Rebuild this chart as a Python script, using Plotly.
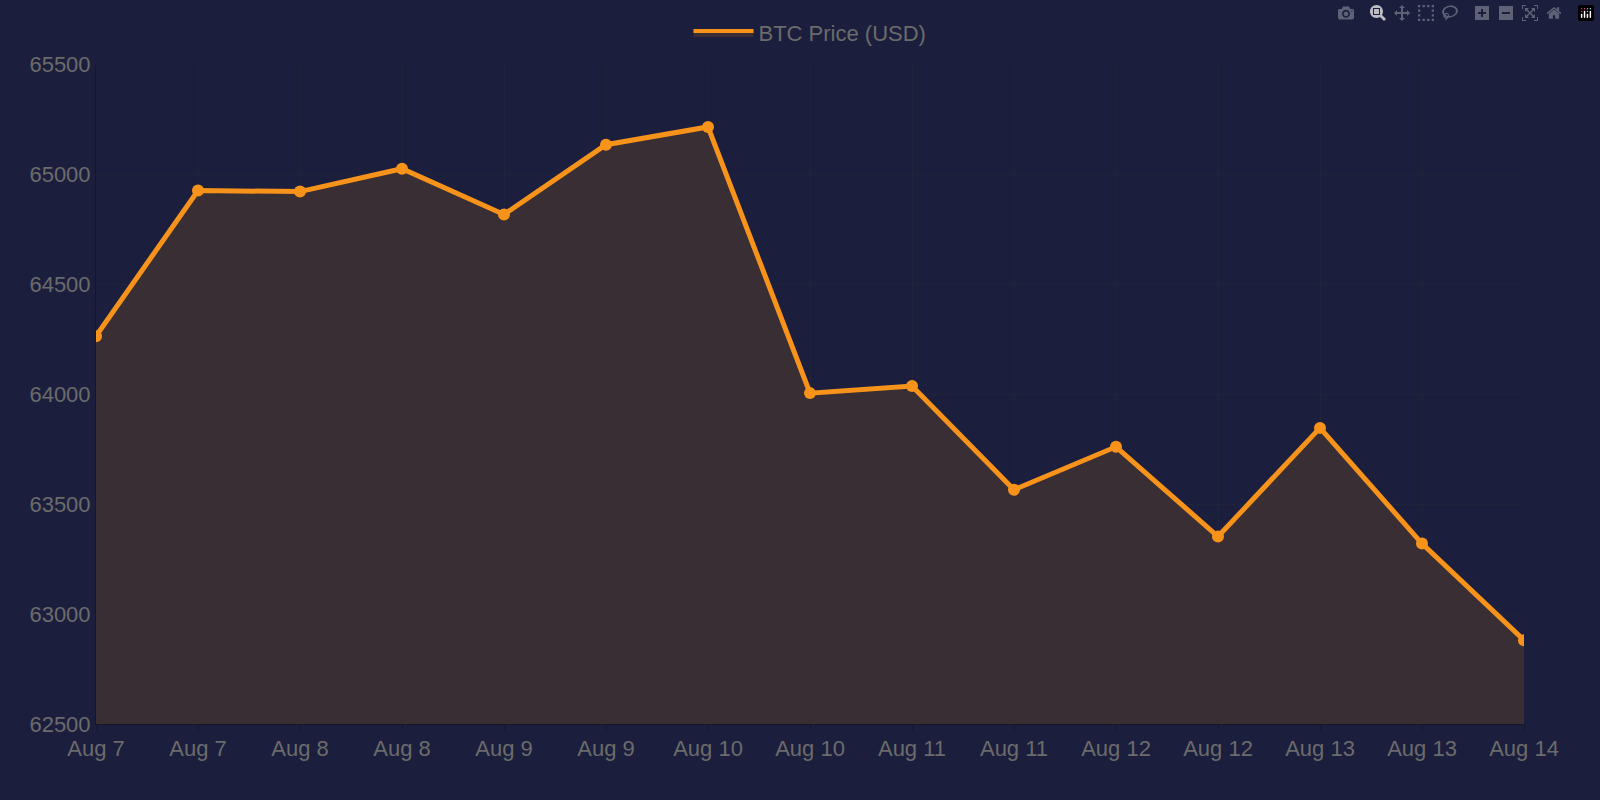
import plotly.graph_objects as go

labels = ["Aug 7", "Aug 7", "Aug 8", "Aug 8", "Aug 9", "Aug 9", "Aug 10", "Aug 10",
          "Aug 11", "Aug 11", "Aug 12", "Aug 12", "Aug 13", "Aug 13", "Aug 14"]
prices = [64263, 64925, 64920, 65024, 64816, 65133, 65214, 64004,
          64036, 63565, 63760, 63352, 63846, 63320, 62881]
yticks = [62500, 63000, 63500, 64000, 64500, 65000, 65500]

x = list(range(len(labels)))
bg = "#1b1f3d"

fig = go.Figure()
fig.add_trace(go.Scatter(
    x=x, y=prices, mode="lines+markers", showlegend=False,
    fill="tozeroy", fillcolor="#3a2e35",
    line=dict(color="#f7931a", width=5),
    marker=dict(color="#f7931a", size=12),
))
# legend-only box swatch
fig.add_trace(go.Scatter(
    x=[None], y=[None], mode="lines", name="BTC Price (USD)",
    fill="toself", fillcolor="#3a2e35", line=dict(color="#f7931a", width=4),
))

fig.update_layout(
    width=1600, height=800,
    paper_bgcolor=bg, plot_bgcolor=bg,
    font=dict(family="Liberation Sans, Arial", size=22, color="#6b6b6b"),
    margin=dict(l=96, r=76, t=62, b=76),
    legend=dict(orientation="h", x=0.5, xanchor="center", y=1.015, yanchor="bottom",
                itemwidth=60, font=dict(size=22, color="#6b6b6b")),
    xaxis=dict(tickmode="array", tickvals=x, ticktext=labels, range=[0, len(labels) - 1],
               showgrid=True, gridcolor="#20243a", zeroline=False,
               showline=True, linecolor="#14172a", ticks="outside", tickcolor="#14172a"),
    yaxis=dict(range=[62500, 65500], tickvals=yticks, tickformat="d",
               showgrid=True, gridcolor="#20243a", zeroline=False,
               showline=True, linecolor="#14172a"),
)

fig.write_html("out.html", post_script="document.body.style.margin='0';document.body.style.background='#1b1f3d';")
